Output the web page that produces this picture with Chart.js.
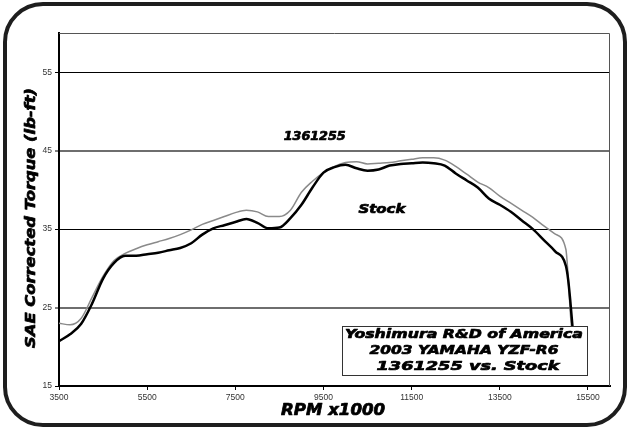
<!DOCTYPE html>
<html>
<head>
<meta charset="utf-8">
<script src="https://cdn.jsdelivr.net/npm/chart.js@4.4.0/dist/chart.umd.min.js"></script>
<style>
  html, body { margin: 0; padding: 0; background: #fff; }
  #wrap { position: relative; width: 629px; height: 430px; }
  #frame {
    position: absolute; left: 3px; top: 2px; width: 624px; height: 425px;
    box-sizing: border-box; border: 4px solid #1e1e1e; border-radius: 40px;
    pointer-events: none;
  }
  #torqueChart { position: absolute; left: 0; top: 0; }
</style>
</head>
<body>
<div id="wrap">
  <canvas id="torqueChart" width="629" height="430"></canvas>
  <div id="frame"></div>
</div>
<script>
const rpm = [
  3500, 3750, 4000, 4250, 4500, 4750, 5000, 5250, 5500, 5750,
  6000, 6250, 6500, 6750, 7000, 7250, 7500, 7750, 8000, 8250,
  8500, 8750, 9000, 9250, 9500, 9750, 10000, 10250, 10500, 10750,
  11000, 11250, 11500, 11750, 12000, 12250, 12500, 12750, 13000, 13250,
  13500, 13750, 14000, 14250, 14500, 14750, 15000, 15050, 15100, 15150,
  15200
];
const stockTorque = [
  20.7, 21.6, 22.9, 25.5, 28.7, 30.7, 31.6, 31.6, 31.8, 32.0,
  32.3, 32.6, 33.2, 34.3, 35.1, 35.5, 35.9, 36.3, 35.8, 35.1,
  35.2, 36.4, 38.1, 40.3, 42.2, 42.9, 43.2, 42.75, 42.45, 42.6,
  43.1, 43.3, 43.4, 43.5, 43.4, 43.1, 42.1, 41.2, 40.3, 38.9,
  38.1, 37.2, 36.1, 35.0, 33.6, 32.2, 30.3, 28.6, 25.8, 22.5,
  19.0
];
const yoshiTorque = [
  23.0, 22.8, 23.6, 26.3, 29.0, 31.0, 31.9, 32.5, 33.0, 33.4,
  33.8, 34.3, 34.9, 35.6, 36.1, 36.6, 37.1, 37.4, 37.2, 36.6,
  36.6, 37.4, 39.7, 41.1, 42.2, 43.0, 43.5, 43.6, 43.3, 43.4,
  43.5, 43.7, 43.9, 44.1, 44.1, 43.8, 43.0, 42.0, 41.0, 40.3,
  39.2, 38.3, 37.4, 36.5, 35.4, 34.4, 32.4, 29.0, 24.3, 21.0,
  18.0
];
const xTicks = [3500, 5500, 7500, 9500, 11500, 13500, 15500];
const yTicks = [15, 25, 35, 45, 55];
const boxLines = ["Yoshimura R&D of America", "2003 YAMAHA YZF-R6", "1361255 vs. Stock"];

const WIDE_FONT = '"DejaVu Sans"';

// draws heavy italic text stretched to a given width (the original uses an extended face)
function drawWide(ctx, text, cx, cy, size, width, rotate) {
  ctx.save();
  ctx.font = `italic bold ${size}px ${WIDE_FONT}`;
  const w = ctx.measureText(text).width;
  ctx.translate(cx, cy);
  if (rotate) ctx.rotate(-Math.PI / 2);
  ctx.scale(width / w, 1);
  ctx.fillStyle = "#000";
  ctx.strokeStyle = "#000";
  ctx.lineWidth = 0.7;
  ctx.lineJoin = "round";
  ctx.textAlign = "center";
  ctx.textBaseline = "middle";
  ctx.fillText(text, 0, 0);
  ctx.strokeText(text, 0, 0);
  ctx.restore();
}

const annotations = {
  id: "annotations",
  afterDraw(chart) {
    const { ctx, chartArea: a, scales: { x, y } } = chart;
    ctx.save();

    // top and right edges of the plot
    ctx.strokeStyle = "#555";
    ctx.lineWidth = 1;
    ctx.beginPath();
    ctx.moveTo(a.left, a.top + 0.5);
    ctx.lineTo(a.right - 0.5, a.top + 0.5);
    ctx.lineTo(a.right - 0.5, a.bottom);
    ctx.stroke();

    // series names
    drawWide(ctx, "1361255", x.getPixelForValue(9300), y.getPixelForValue(46.7), 12, 62);
    drawWide(ctx, "Stock", x.getPixelForValue(10825), y.getPixelForValue(37.5), 12, 47);

    // axis titles
    drawWide(ctx, "SAE Corrected Torque (lb-ft)", 31, 218, 14, 260, true);
    drawWide(ctx, "RPM x1000", 333, 411, 15, 104);

    // caption box
    const bl = Math.round(x.getPixelForValue(9920)) + 0.5;
    const br = Math.round(x.getPixelForValue(15480)) + 0.5;
    const bt = Math.round(y.getPixelForValue(22.6)) + 0.5;
    const bb = Math.round(y.getPixelForValue(16.4)) + 0.5;
    ctx.fillStyle = "#fff";
    ctx.fillRect(bl, bt, br - bl, bb - bt);
    ctx.strokeStyle = "#333";
    ctx.lineWidth = 1;
    ctx.strokeRect(bl, bt, br - bl, bb - bt);

    drawWide(ctx, boxLines[0], 464, 335, 13, 238);
    drawWide(ctx, boxLines[1], 464, 351, 13, 189);
    drawWide(ctx, boxLines[2], 468, 366.5, 13, 183);

    ctx.restore();
  },
};

new Chart(document.getElementById("torqueChart"), {
  type: "line",
  data: {
    labels: rpm,
    datasets: [
      {
        label: "Stock",
        data: rpm.map((r, i) => ({ x: r, y: stockTorque[i] })),
        borderColor: "#000",
        borderWidth: 2.5,
        pointRadius: 0,
        cubicInterpolationMode: "monotone",
        order: 0,
      },
      {
        label: "1361255",
        data: rpm.map((r, i) => ({ x: r, y: yoshiTorque[i] })),
        borderColor: "#8a8a8a",
        borderWidth: 1.5,
        pointRadius: 0,
        cubicInterpolationMode: "monotone",
        order: 1,
      },
    ],
  },
  options: {
    responsive: false,
    animation: false,
    layout: { padding: { left: 0, top: 33, right: 19, bottom: 0 } },
    plugins: {
      legend: { display: false },
      tooltip: { enabled: false },
    },
    scales: {
      x: {
        type: "linear",
        min: 3500,
        max: 16000,
        afterBuildTicks: (scale) => {
          scale.ticks = xTicks.map((v) => ({ value: v }));
        },
        afterFit: (scale) => {
          scale.height = 44;
        },
        grid: {
          drawOnChartArea: false,
          drawTicks: true,
          tickLength: 4,
          color: "#000",
        },
        border: { color: "#000", width: 2 },
        ticks: {
          color: "#333",
          padding: 3,
          maxRotation: 0,
          callback: (v) => String(v),
          font: { size: 8.5, family: "Liberation Sans" },
        },
      },
      y: {
        min: 15,
        max: 60,
        afterBuildTicks: (scale) => {
          scale.ticks = yTicks.map((v) => ({ value: v }));
        },
        afterFit: (scale) => {
          scale.width = 59;
        },
        grid: {
          color: (c) => (c.tick && (c.tick.value === 45 || c.tick.value === 25) ? "#6e6e6e" : "#000"),
          lineWidth: (c) => (c.tick && (c.tick.value === 45 || c.tick.value === 25) ? 2 : 1),
          tickColor: "#000",
          tickWidth: 1,
          tickLength: 4,
        },
        border: { color: "#000", width: 2 },
        ticks: {
          color: "#333",
          padding: 3,
          callback: (v) => String(v),
          font: { size: 8.5, family: "Liberation Sans" },
        },
      },
    },
  },
  plugins: [annotations],
});
</script>
</body>
</html>
